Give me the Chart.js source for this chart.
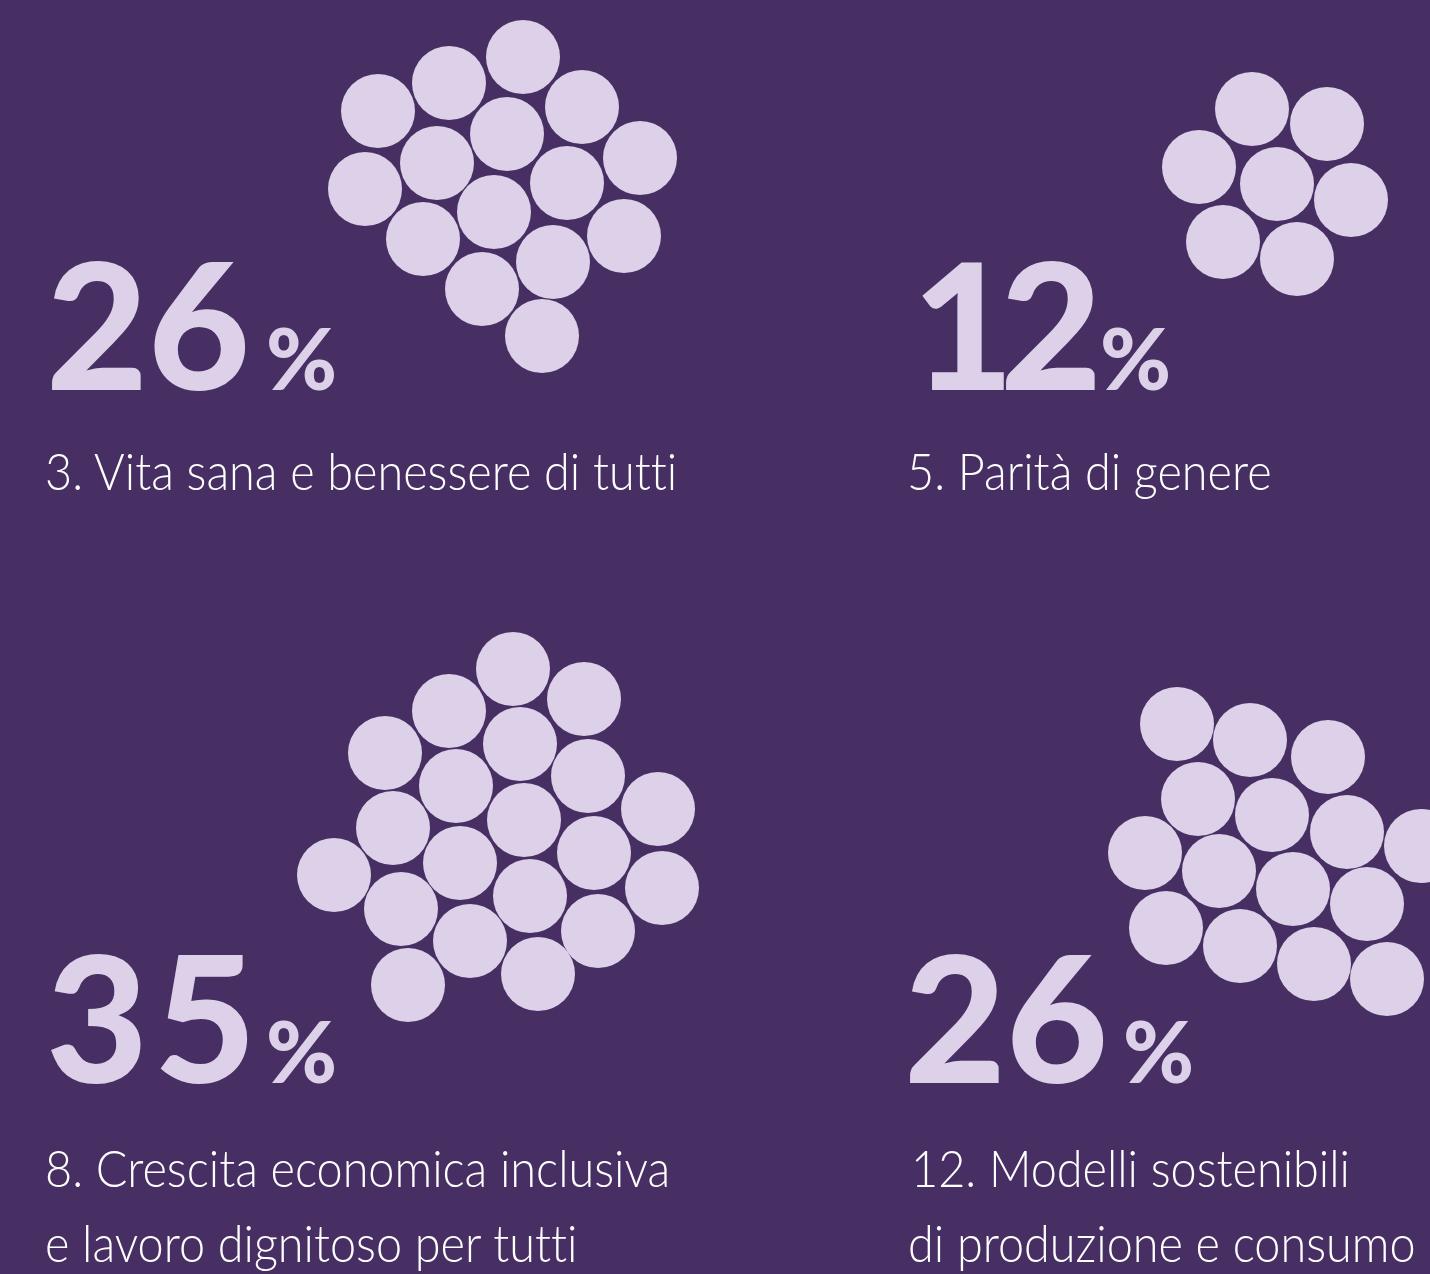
<!DOCTYPE html>
<html lang="it">
<head>
    <meta charset="UTF-8">
    <title>Obiettivi di sviluppo sostenibile</title>
    <script src="https://cdn.jsdelivr.net/npm/chart.js"></script>
    <style>
        html, body {
            margin: 0;
            padding: 0;
            background: #472f63;
        }
        .wrap {
            position: relative;
            width: 1430px;
            height: 1274px;
            overflow: hidden;
        }
        #grafico, #testi {
            position: absolute;
            left: 0;
            top: 0;
        }
        .num {
            font-family: Lato, sans-serif;
            font-weight: 900;
            fill: #ddd1e9;
        }
        .lab {
            font-family: Lato, sans-serif;
            font-weight: 300;
            fill: #ffffff;
            font-variant-ligatures: none;
            font-feature-settings: "liga" 0;
        }
    </style>
</head>
<body>
    <div class="wrap">
        <canvas id="grafico" width="1430" height="1274"></canvas>
        <svg id="testi" width="1430" height="1274" xmlns="http://www.w3.org/2000/svg"></svg>
    </div>

    <script>
        // obiettivi e percentuali
        const obiettivi = [
            ['3. Vita sana e benessere di tutti'],
            ['5. Parità di genere'],
            ['8. Crescita economica inclusiva', 'e lavoro dignitoso per tutti'],
            ['12. Modelli sostenibili', 'di produzione e consumo']
        ];
        const percentuali = [26, 12, 35, 26];

        // centri dei cerchi (unità del piano 1430 x 1274)
        const cerchiX_3 = [523, 449, 378, 582, 507, 437, 640, 567, 365, 494, 423, 624, 553, 482, 542];
        const cerchiY_3 = [57, 83, 111, 107, 134, 163, 158, 183, 189, 212, 239, 236, 262, 289, 336];

        const cerchiX_5 = [1252, 1327, 1199, 1277, 1351, 1223, 1297];
        const cerchiY_5 = [109, 124, 167, 184, 200, 242, 259];

        const cerchiX_8 = [513, 584, 449, 520, 385, 588, 456, 658, 524, 393, 594, 460, 334, 662, 530, 401, 598, 470, 538, 408];
        const cerchiY_8 = [669, 699, 711, 744, 753, 776, 786, 809, 820, 828, 853, 863, 875, 888, 896, 909, 931, 941, 974, 985];

        const cerchiX_12 = [1177, 1250, 1328, 1198, 1272, 1347, 1421, 1145, 1219, 1293, 1367, 1166, 1240, 1314, 1387];
        const cerchiY_12 = [724, 740, 757, 799, 815, 832, 846, 853, 871, 889, 904, 928, 946, 964, 979];

        const gruppiX = [cerchiX_3, cerchiX_5, cerchiX_8, cerchiX_12];
        const gruppiY = [cerchiY_3, cerchiY_5, cerchiY_8, cerchiY_12];

        // impaginazione dei testi
        const posNumero = [[46, 390], [912, 390], [46, 1083], [904, 1083]];
        const xPercento = [266, 1100, 266, 1123];
        const spaziatura = [0, -14, 6, 0];
        const posEtichetta = [[45, 490], [907, 490], [45, 1187], [911, 1187]];
        const interlinea = 75;
        const compressione = 0.9;
        const raggio = 37;
        const lilla = '#ddd1e9';

        function renderGrafico() {
            const ctx = document.getElementById('grafico').getContext('2d');
            const datasets = gruppiX.map((xs, i) => ({
                label: obiettivi[i][0],
                data: xs.map((x, k) => ({ x: x, y: gruppiY[i][k], r: raggio })),
                backgroundColor: lilla,
                borderWidth: 0,
                hoverRadius: 0,
                clip: false
            }));

            new Chart(ctx, {
                type: 'bubble',
                data: { datasets: datasets },
                options: {
                    responsive: false,
                    animation: false,
                    layout: { padding: 0, autoPadding: false },
                    plugins: {
                        legend: { display: false },
                        tooltip: { enabled: false }
                    },
                    scales: {
                        x: { type: 'linear', min: 0, max: 1430, display: false },
                        y: { type: 'linear', min: 0, max: 1274, reverse: true, display: false }
                    }
                }
            });
        }

        function renderTesti() {
            const svg = document.getElementById('testi');
            const ns = 'http://www.w3.org/2000/svg';

            percentuali.forEach((p, i) => {
                const t = document.createElementNS(ns, 'text');
                t.setAttribute('class', 'num');
                t.setAttribute('x', posNumero[i][0]);
                t.setAttribute('y', posNumero[i][1]);
                const cifre = document.createElementNS(ns, 'tspan');
                cifre.setAttribute('font-size', '176');
                cifre.setAttribute('letter-spacing', spaziatura[i]);
                cifre.textContent = p;
                const perc = document.createElementNS(ns, 'tspan');
                perc.setAttribute('font-size', '86');
                perc.setAttribute('x', xPercento[i]);
                perc.textContent = '%';
                t.appendChild(cifre);
                t.appendChild(perc);
                svg.appendChild(t);

                obiettivi[i].forEach((riga, r) => {
                    const x = posEtichetta[i][0] - (r > 0 && i === 3 ? 3 : 0);
                    const y = posEtichetta[i][1] + r * interlinea;
                    const l = document.createElementNS(ns, 'text');
                    l.setAttribute('class', 'lab');
                    l.setAttribute('font-size', '52');
                    l.setAttribute('transform', 'translate(' + x + ' ' + y + ') scale(' + compressione + ' 1)');
                    l.textContent = riga;
                    svg.appendChild(l);
                });
            });
        }

        window.onload = () => {
            renderGrafico();
            renderTesti();
        };
    </script>
</body>
</html>
